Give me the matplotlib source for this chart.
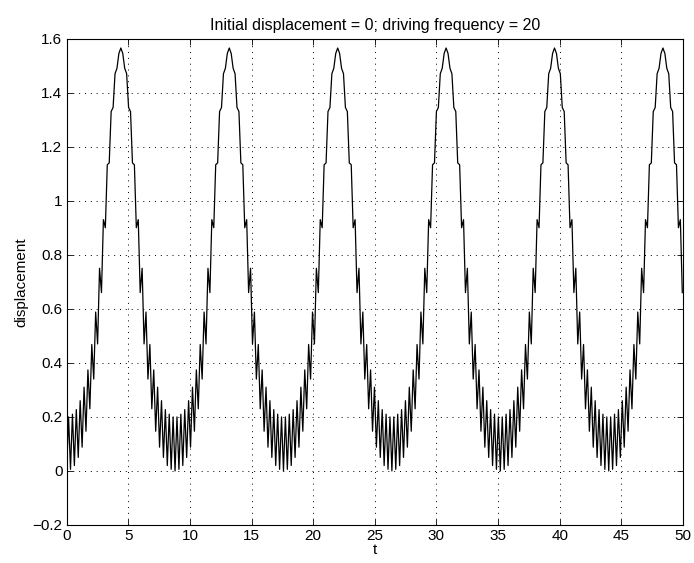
import numpy as np
import matplotlib
matplotlib.use('Agg')
import matplotlib.pyplot as plt
from matplotlib.ticker import FixedLocator, FuncFormatter

plt.rcParams['font.family'] = ['Liberation Sans', 'DejaVu Sans']

# displacement at the turning points of the fast wiggle, read off the rising
# half of the first swing (t = 0 .. 4.4, one value every pi/20)
half_swing = [0.0, 0.2, 0.006, 0.21, 0.02, 0.227, 0.05, 0.26, 0.088, 0.31,
              0.147, 0.374, 0.23, 0.468, 0.34, 0.588, 0.47, 0.75, 0.66, 0.93,
              0.9, 1.133, 1.14, 1.33, 1.345, 1.47, 1.49, 1.545, 1.565]
step = 0.15708
n_points = 319

xticks = [0, 5, 10, 15, 20, 25, 30, 35, 40, 45, 50]
yticks = [-0.2, 0, 0.2, 0.4, 0.6, 0.8, 1, 1.2, 1.4, 1.6]

# the falling half mirrors the rising half, and the swings repeat
swing = half_swing + half_swing[-2:0:-1]
disp = np.tile(swing, 6)[:n_points]
t = np.arange(n_points) * step

fig = plt.figure(figsize=(6.94, 5.63), dpi=100)
ax = fig.add_axes([0.096, 0.0675, 0.888, 0.864])
ax.plot(t, disp, color='black', linewidth=0.9)

ax.set_xlim(0, 50)
ax.set_ylim(-0.2, 1.6)
ax.xaxis.set_major_locator(FixedLocator(xticks))
ax.yaxis.set_major_locator(FixedLocator(yticks))
ax.yaxis.set_major_formatter(FuncFormatter(lambda v, p: ('%g' % round(v, 2)).replace('-', '\u2212')))
ax.tick_params(direction='in', top=True, right=True, length=4, width=0.6, labelsize=11, pad=3)
ax.grid(True, linestyle=(0, (1, 5)), color='black', linewidth=0.7)
for s in ax.spines.values():
    s.set_linewidth(0.8)

ax.set_title('Initial displacement = 0; driving frequency = 20', fontsize=11.5, pad=6)
ax.set_xlabel('t', fontsize=11, labelpad=0)
ax.set_ylabel('displacement', fontsize=11, labelpad=3)

plt.savefig('out.png', dpi=100)
plt.close()
